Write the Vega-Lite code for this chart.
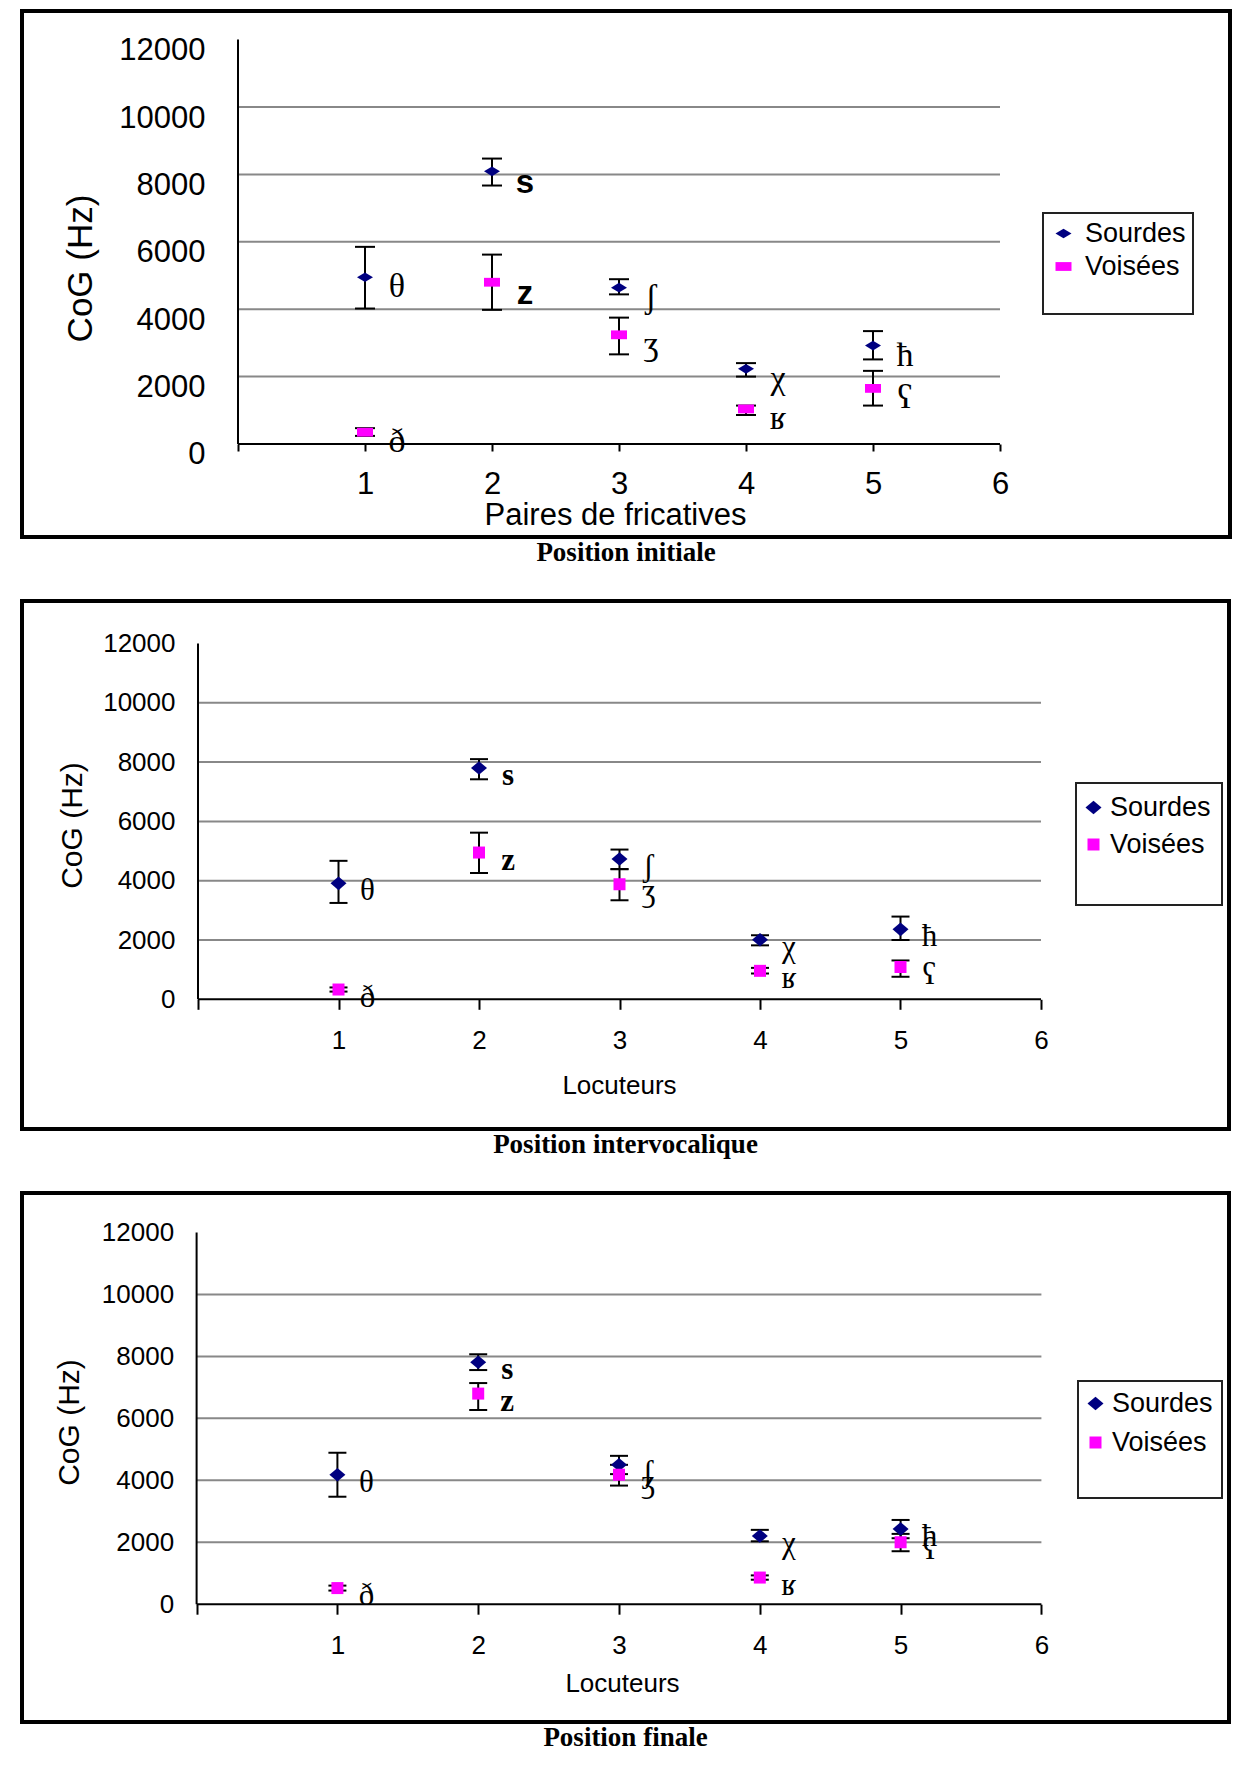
{
  "$schema": "https://vega.github.io/schema/vega-lite/v6.json",
  "background": "white",
  "padding": {"left": 20, "top": 9, "right": 0, "bottom": 0},
  "spacing": 31,
  "resolve": {"scale": {"color": "independent", "shape": "independent"}, "legend": {"color": "independent", "shape": "independent"}},
  "config": {
    "font": "Liberation Sans",
    "legend": {"strokeWidth": 2},
    "axis": {"labelColor": "black", "titleColor": "black", "titleFontWeight": "normal"}
  },
  "datasets": {
    "grid": [{"v": 2000}, {"v": 4000}, {"v": 6000}, {"v": 8000}, {"v": 10000}],
    "p1": [
      {"pair": 1, "type": "Sourdes", "cog": 4950, "lo": 4020, "hi": 5850, "ipa": "θ"},
      {"pair": 1, "type": "Voisées", "cog": 350, "lo": 240, "hi": 470, "ipa": "ð"},
      {"pair": 2, "type": "Sourdes", "cog": 8090, "lo": 7670, "hi": 8470, "ipa": "s"},
      {"pair": 2, "type": "Voisées", "cog": 4800, "lo": 3980, "hi": 5620, "ipa": "z"},
      {"pair": 3, "type": "Sourdes", "cog": 4640, "lo": 4440, "hi": 4890, "ipa": "ʃ"},
      {"pair": 3, "type": "Voisées", "cog": 3240, "lo": 2660, "hi": 3750, "ipa": "ʒ"},
      {"pair": 4, "type": "Sourdes", "cog": 2230, "lo": 2000, "hi": 2400, "ipa": "χ"},
      {"pair": 4, "type": "Voisées", "cog": 1040, "lo": 860, "hi": 1140, "ipa": "ʁ"},
      {"pair": 5, "type": "Sourdes", "cog": 2920, "lo": 2510, "hi": 3350, "ipa": "ħ"},
      {"pair": 5, "type": "Voisées", "cog": 1650, "lo": 1140, "hi": 2170, "ipa": "ʕ"}
    ],
    "p2": [
      {"pair": 1, "type": "Sourdes", "cog": 3910, "lo": 3250, "hi": 4670, "ipa": "θ"},
      {"pair": 1, "type": "Voisées", "cog": 330, "lo": 260, "hi": 400, "ipa": "ð"},
      {"pair": 2, "type": "Sourdes", "cog": 7800, "lo": 7420, "hi": 8100, "ipa": "s"},
      {"pair": 2, "type": "Voisées", "cog": 4950, "lo": 4260, "hi": 5620, "ipa": "z"},
      {"pair": 3, "type": "Sourdes", "cog": 4730, "lo": 4390, "hi": 5050, "ipa": "ʃ"},
      {"pair": 3, "type": "Voisées", "cog": 3880, "lo": 3340, "hi": 4390, "ipa": "ʒ"},
      {"pair": 4, "type": "Sourdes", "cog": 2010, "lo": 1820, "hi": 2160, "ipa": "χ"},
      {"pair": 4, "type": "Voisées", "cog": 960, "lo": 870, "hi": 1060, "ipa": "ʁ"},
      {"pair": 5, "type": "Sourdes", "cog": 2360, "lo": 2000, "hi": 2790, "ipa": "ħ"},
      {"pair": 5, "type": "Voisées", "cog": 1090, "lo": 760, "hi": 1310, "ipa": "ʕ"}
    ],
    "p3": [
      {"pair": 1, "type": "Sourdes", "cog": 4180, "lo": 3470, "hi": 4890, "ipa": "θ"},
      {"pair": 1, "type": "Voisées", "cog": 520, "lo": 440, "hi": 600, "ipa": "ð"},
      {"pair": 2, "type": "Sourdes", "cog": 7810, "lo": 7560, "hi": 8070, "ipa": "s"},
      {"pair": 2, "type": "Voisées", "cog": 6800, "lo": 6270, "hi": 7140, "ipa": "z"},
      {"pair": 3, "type": "Sourdes", "cog": 4500, "lo": 4200, "hi": 4790, "ipa": "ʃ"},
      {"pair": 3, "type": "Voisées", "cog": 4180, "lo": 3830, "hi": 4500, "ipa": "ʒ"},
      {"pair": 4, "type": "Sourdes", "cog": 2200, "lo": 2030, "hi": 2400, "ipa": "χ"},
      {"pair": 4, "type": "Voisées", "cog": 860, "lo": 790, "hi": 930, "ipa": "ʁ"},
      {"pair": 5, "type": "Sourdes", "cog": 2430, "lo": 2130, "hi": 2720, "ipa": "ħ"},
      {"pair": 5, "type": "Voisées", "cog": 2000, "lo": 1710, "hi": 2270, "ipa": "ʕ"}
    ]
  },
  "vconcat": [
    {
      "width": 1208, "height": 526,
      "view": {"stroke": "black", "strokeWidth": 4},
      "title": {"text": "Position initiale", "orient": "bottom", "anchor": "middle", "font": "Liberation Serif", "fontSize": 27, "fontWeight": "bold", "color": "black", "offset": 3},
      "layer": [
        {
          "data": {"name": "grid"},
          "mark": {"type": "rule", "color": "#888888", "strokeWidth": 2},
          "encoding": {
            "x": {"datum": 0, "type": "quantitative", "scale": {"domain": [-1.7008, 7.811], "nice": false, "zero": false},
              "axis": {"orient": "bottom", "offset": -93, "values": [0, 1, 2, 3, 4, 5, 6], "format": "d", "labelExpr": "datum.value == 0 ? '' : datum.label", "domain": false, "grid": false, "ticks": true, "tickColor": "black", "tickSize": 7, "tickWidth": 2, "labelFont": "Liberation Sans", "labelFontSize": 31, "labelPadding": 18, "labelFlush": false, "labelOverlap": false, "title": "Paires de fricatives", "titleFont": "Liberation Sans", "titleFontSize": 31, "titleX": 593, "titleY": 71, "titleBaseline": "middle"}},
            "x2": {"datum": 6},
            "y": {"field": "v", "type": "quantitative", "scale": {"domain": [-2760, 12849], "nice": false, "zero": false},
              "axis": {"orient": "left", "offset": -216, "values": [0, 2000, 4000, 6000, 8000, 10000, 12000], "format": "d", "domain": false, "grid": false, "ticks": false, "labelFont": "Liberation Sans", "labelFontSize": 31, "labelPadding": 33, "labelOffset": 11, "labelFlush": false, "labelOverlap": false, "title": "CoG (Hz)", "titleFont": "Liberation Sans", "titleFontSize": 35, "titleX": -158, "titleY": 257, "titleBaseline": "middle"}}
          }
        },
        {
          "data": {"values": [{}]},
          "mark": {"type": "rule", "color": "black", "strokeWidth": 2},
          "encoding": {
            "x": {"datum": 0, "type": "quantitative", "scale": {"domain": [-1.7008, 7.811], "nice": false, "zero": false}},
            "x2": {"datum": 6},
            "y": {"datum": 0, "type": "quantitative", "scale": {"domain": [-2760, 12849], "nice": false, "zero": false}}
          }
        },
        {
          "data": {"values": [{}]},
          "mark": {"type": "rule", "color": "black", "strokeWidth": 2},
          "encoding": {
            "x": {"datum": 0, "type": "quantitative", "scale": {"domain": [-1.7008, 7.811], "nice": false, "zero": false}},
            "y": {"datum": 0, "type": "quantitative", "scale": {"domain": [-2760, 12849], "nice": false, "zero": false}},
            "y2": {"datum": 12000}
          }
        },
        {
          "data": {"name": "p1"},
          "mark": {"type": "rule", "color": "black", "strokeWidth": 2},
          "encoding": {
            "x": {"field": "pair", "type": "quantitative", "scale": {"domain": [-1.7008, 7.811], "nice": false, "zero": false}},
            "y": {"field": "lo", "type": "quantitative", "scale": {"domain": [-2760, 12849], "nice": false, "zero": false}},
            "y2": {"field": "hi"}
          }
        },
        {
          "data": {"name": "p1"},
          "mark": {"type": "tick", "orient": "horizontal", "size": 20, "thickness": 2, "color": "black", "opacity": 1},
          "encoding": {
            "x": {"field": "pair", "type": "quantitative", "scale": {"domain": [-1.7008, 7.811], "nice": false, "zero": false}},
            "y": {"field": "lo", "type": "quantitative", "scale": {"domain": [-2760, 12849], "nice": false, "zero": false}}
          }
        },
        {
          "data": {"name": "p1"},
          "mark": {"type": "tick", "orient": "horizontal", "size": 20, "thickness": 2, "color": "black", "opacity": 1},
          "encoding": {
            "x": {"field": "pair", "type": "quantitative", "scale": {"domain": [-1.7008, 7.811], "nice": false, "zero": false}},
            "y": {"field": "hi", "type": "quantitative", "scale": {"domain": [-2760, 12849], "nice": false, "zero": false}}
          }
        },
        {
          "data": {"name": "p1"},
          "mark": {"type": "point", "filled": true, "size": 256, "opacity": 1, "strokeWidth": 0},
          "encoding": {
            "x": {"field": "pair", "type": "quantitative", "scale": {"domain": [-1.7008, 7.811], "nice": false, "zero": false}},
            "y": {"field": "cog", "type": "quantitative", "scale": {"domain": [-2760, 12849], "nice": false, "zero": false}},
            "color": {"field": "type", "type": "nominal", "scale": {"domain": ["Sourdes", "Voisées"], "range": ["#000080", "#ff00ff"]},
              "legend": {"title": "\u00a0", "titleOrient": "bottom", "titleFontSize": 23, "titlePadding": 4, "orient": "none", "legendX": 1021, "legendY": 202, "padding": 7, "strokeColor": "#222222", "fillColor": "white", "labelFont": "Liberation Sans", "labelFontSize": 27, "labelColor": "black", "labelOffset": 8, "symbolOffset": 0, "symbolSize": 256, "rowPadding": 5, "symbolStrokeWidth": 0}},
            "shape": {"field": "type", "type": "nominal", "scale": {"domain": ["Sourdes", "Voisées"], "range": ["M-1,0L0,-0.6L1,0L0,0.6Z", "M-1,-0.55H1V0.55H-1Z"]},
              "legend": {"title": "\u00a0", "titleOrient": "bottom", "titleFontSize": 23, "titlePadding": 4, "orient": "none", "legendX": 1021, "legendY": 202, "padding": 7, "strokeColor": "#222222", "fillColor": "white", "labelFont": "Liberation Sans", "labelFontSize": 27, "labelColor": "black", "labelOffset": 8, "symbolOffset": 0, "symbolSize": 256, "rowPadding": 5, "symbolStrokeWidth": 0}}
          }
        },
        {
          "data": {"name": "p1"},
          "transform": [{"filter": "datum.ipa != 's' && datum.ipa != 'z'"}],
          "mark": {"type": "text", "font": "Liberation Serif", "fontSize": 34, "color": "black", "align": "center", "baseline": "middle", "dx": 32, "dy": 10},
          "encoding": {
            "x": {"field": "pair", "type": "quantitative", "scale": {"domain": [-1.7008, 7.811], "nice": false, "zero": false}},
            "y": {"field": "cog", "type": "quantitative", "scale": {"domain": [-2760, 12849], "nice": false, "zero": false}},
            "text": {"field": "ipa"}
          }
        },
        {
          "data": {"name": "p1"},
          "transform": [{"filter": "datum.ipa == 's' || datum.ipa == 'z'"}],
          "mark": {"type": "text", "font": "Liberation Sans", "fontWeight": "bold", "fontSize": 33, "color": "black", "align": "center", "baseline": "middle", "dx": 33, "dy": 12},
          "encoding": {
            "x": {"field": "pair", "type": "quantitative", "scale": {"domain": [-1.7008, 7.811], "nice": false, "zero": false}},
            "y": {"field": "cog", "type": "quantitative", "scale": {"domain": [-2760, 12849], "nice": false, "zero": false}},
            "text": {"field": "ipa"}
          }
        }
      ]
    },
    {
      "width": 1207, "height": 528,
      "view": {"stroke": "black", "strokeWidth": 4},
      "title": {"text": "Position intervocalique", "orient": "bottom", "anchor": "middle", "font": "Liberation Serif", "fontSize": 27, "fontWeight": "bold", "color": "black", "offset": 3},
      "layer": [
        {
          "data": {"name": "grid"},
          "mark": {"type": "rule", "color": "#888888", "strokeWidth": 2},
          "encoding": {
            "x": {"datum": 0, "type": "quantitative", "scale": {"domain": [-1.2527, 7.3381], "nice": false, "zero": false},
              "axis": {"orient": "bottom", "offset": -129.7, "values": [0, 1, 2, 3, 4, 5, 6], "format": "d", "labelExpr": "datum.value == 0 ? '' : datum.label", "domain": false, "grid": false, "ticks": true, "tickColor": "black", "tickSize": 10, "tickWidth": 2, "labelFont": "Liberation Sans", "labelFontSize": 26, "labelPadding": 18, "labelFlush": false, "labelOverlap": false, "title": "Locuteurs", "titleFont": "Liberation Sans", "titleFontSize": 26, "titleX": 597, "titleY": 86, "titleBaseline": "middle"}},
            "x2": {"datum": 6},
            "y": {"field": "v", "type": "quantitative", "scale": {"domain": [-4374, 13433], "nice": false, "zero": false},
              "axis": {"orient": "left", "offset": -176, "values": [0, 2000, 4000, 6000, 8000, 10000, 12000], "format": "d", "domain": false, "grid": false, "ticks": false, "labelFont": "Liberation Sans", "labelFontSize": 26, "labelPadding": 23, "labelFlush": false, "labelOverlap": false, "title": "CoG (Hz)", "titleFont": "Liberation Sans", "titleFontSize": 30, "titleX": -126, "titleY": 224, "titleBaseline": "middle"}}
          }
        },
        {
          "data": {"values": [{}]},
          "mark": {"type": "rule", "color": "black", "strokeWidth": 2},
          "encoding": {
            "x": {"datum": 0, "type": "quantitative", "scale": {"domain": [-1.2527, 7.3381], "nice": false, "zero": false}},
            "x2": {"datum": 6},
            "y": {"datum": 0, "type": "quantitative", "scale": {"domain": [-4374, 13433], "nice": false, "zero": false}}
          }
        },
        {
          "data": {"values": [{}]},
          "mark": {"type": "rule", "color": "black", "strokeWidth": 2},
          "encoding": {
            "x": {"datum": 0, "type": "quantitative", "scale": {"domain": [-1.2527, 7.3381], "nice": false, "zero": false}},
            "y": {"datum": 0, "type": "quantitative", "scale": {"domain": [-4374, 13433], "nice": false, "zero": false}},
            "y2": {"datum": 12000}
          }
        },
        {
          "data": {"name": "p2"},
          "mark": {"type": "rule", "color": "black", "strokeWidth": 2},
          "encoding": {
            "x": {"field": "pair", "type": "quantitative", "scale": {"domain": [-1.2527, 7.3381], "nice": false, "zero": false}},
            "y": {"field": "lo", "type": "quantitative", "scale": {"domain": [-4374, 13433], "nice": false, "zero": false}},
            "y2": {"field": "hi"}
          }
        },
        {
          "data": {"name": "p2"},
          "mark": {"type": "tick", "orient": "horizontal", "size": 18, "thickness": 2, "color": "black", "opacity": 1},
          "encoding": {
            "x": {"field": "pair", "type": "quantitative", "scale": {"domain": [-1.2527, 7.3381], "nice": false, "zero": false}},
            "y": {"field": "lo", "type": "quantitative", "scale": {"domain": [-4374, 13433], "nice": false, "zero": false}}
          }
        },
        {
          "data": {"name": "p2"},
          "mark": {"type": "tick", "orient": "horizontal", "size": 18, "thickness": 2, "color": "black", "opacity": 1},
          "encoding": {
            "x": {"field": "pair", "type": "quantitative", "scale": {"domain": [-1.2527, 7.3381], "nice": false, "zero": false}},
            "y": {"field": "hi", "type": "quantitative", "scale": {"domain": [-4374, 13433], "nice": false, "zero": false}}
          }
        },
        {
          "data": {"name": "p2"},
          "mark": {"type": "point", "filled": true, "size": 256, "opacity": 1, "strokeWidth": 0},
          "encoding": {
            "x": {"field": "pair", "type": "quantitative", "scale": {"domain": [-1.2527, 7.3381], "nice": false, "zero": false}},
            "y": {"field": "cog", "type": "quantitative", "scale": {"domain": [-4374, 13433], "nice": false, "zero": false}},
            "color": {"field": "type", "type": "nominal", "scale": {"domain": ["Sourdes", "Voisées"], "range": ["#000080", "#ff00ff"]},
              "legend": {"title": "\u00a0", "titleOrient": "bottom", "titleFontSize": 28, "titlePadding": 8, "orient": "none", "legendX": 1054, "legendY": 182, "padding": 11, "strokeColor": "#222222", "fillColor": "white", "labelFont": "Liberation Sans", "labelFontSize": 27, "labelColor": "black", "labelOffset": 3, "symbolOffset": -7, "symbolSize": 256, "rowPadding": 9, "symbolStrokeWidth": 0}},
            "shape": {"field": "type", "type": "nominal", "scale": {"domain": ["Sourdes", "Voisées"], "range": ["M-1,0L0,-0.85L1,0L0,0.85Z", "M-0.75,-0.75H0.75V0.75H-0.75Z"]},
              "legend": {"title": "\u00a0", "titleOrient": "bottom", "titleFontSize": 28, "titlePadding": 8, "orient": "none", "legendX": 1054, "legendY": 182, "padding": 11, "strokeColor": "#222222", "fillColor": "white", "labelFont": "Liberation Sans", "labelFontSize": 27, "labelColor": "black", "labelOffset": 3, "symbolOffset": -7, "symbolSize": 256, "rowPadding": 9, "symbolStrokeWidth": 0}}
          }
        },
        {
          "data": {"name": "p2"},
          "transform": [{"filter": "datum.ipa != 's' && datum.ipa != 'z'"}],
          "mark": {"type": "text", "font": "Liberation Serif", "fontSize": 31, "color": "black", "align": "center", "baseline": "middle", "dx": 29, "dy": 8},
          "encoding": {
            "x": {"field": "pair", "type": "quantitative", "scale": {"domain": [-1.2527, 7.3381], "nice": false, "zero": false}},
            "y": {"field": "cog", "type": "quantitative", "scale": {"domain": [-4374, 13433], "nice": false, "zero": false}},
            "text": {"field": "ipa"}
          }
        },
        {
          "data": {"name": "p2"},
          "transform": [{"filter": "datum.ipa == 's' || datum.ipa == 'z'"}],
          "mark": {"type": "text", "font": "Liberation Serif", "fontWeight": "bold", "fontSize": 31, "color": "black", "align": "center", "baseline": "middle", "dx": 29, "dy": 8},
          "encoding": {
            "x": {"field": "pair", "type": "quantitative", "scale": {"domain": [-1.2527, 7.3381], "nice": false, "zero": false}},
            "y": {"field": "cog", "type": "quantitative", "scale": {"domain": [-4374, 13433], "nice": false, "zero": false}},
            "text": {"field": "ipa"}
          }
        }
      ]
    },
    {
      "width": 1207, "height": 529,
      "view": {"stroke": "black", "strokeWidth": 4},
      "title": {"text": "Position finale", "orient": "bottom", "anchor": "middle", "font": "Liberation Serif", "fontSize": 27, "fontWeight": "bold", "color": "black", "offset": 3},
      "layer": [
        {
          "data": {"name": "grid"},
          "mark": {"type": "rule", "color": "#888888", "strokeWidth": 2},
          "encoding": {
            "x": {"datum": 0, "type": "quantitative", "scale": {"domain": [-1.2401, 7.3324], "nice": false, "zero": false},
              "axis": {"orient": "bottom", "offset": -117.8, "values": [0, 1, 2, 3, 4, 5, 6], "format": "d", "labelExpr": "datum.value == 0 ? '' : datum.label", "domain": false, "grid": false, "ticks": true, "tickColor": "black", "tickSize": 10, "tickWidth": 2, "labelFont": "Liberation Sans", "labelFontSize": 26, "labelPadding": 18, "labelFlush": false, "labelOverlap": false, "title": "Locuteurs", "titleFont": "Liberation Sans", "titleFontSize": 26, "titleX": 600, "titleY": 79, "titleBaseline": "middle"}},
            "x2": {"datum": 6},
            "y": {"field": "v", "type": "quantitative", "scale": {"domain": [-3804, 13277], "nice": false, "zero": false},
              "axis": {"orient": "left", "offset": -174.6, "values": [0, 2000, 4000, 6000, 8000, 10000, 12000], "format": "d", "domain": false, "grid": false, "ticks": false, "labelFont": "Liberation Sans", "labelFontSize": 26, "labelPadding": 23, "labelFlush": false, "labelOverlap": false, "title": "CoG (Hz)", "titleFont": "Liberation Sans", "titleFontSize": 30, "titleX": -127, "titleY": 229, "titleBaseline": "middle"}}
          }
        },
        {
          "data": {"values": [{}]},
          "mark": {"type": "rule", "color": "black", "strokeWidth": 2},
          "encoding": {
            "x": {"datum": 0, "type": "quantitative", "scale": {"domain": [-1.2401, 7.3324], "nice": false, "zero": false}},
            "x2": {"datum": 6},
            "y": {"datum": 0, "type": "quantitative", "scale": {"domain": [-3804, 13277], "nice": false, "zero": false}}
          }
        },
        {
          "data": {"values": [{}]},
          "mark": {"type": "rule", "color": "black", "strokeWidth": 2},
          "encoding": {
            "x": {"datum": 0, "type": "quantitative", "scale": {"domain": [-1.2401, 7.3324], "nice": false, "zero": false}},
            "y": {"datum": 0, "type": "quantitative", "scale": {"domain": [-3804, 13277], "nice": false, "zero": false}},
            "y2": {"datum": 12000}
          }
        },
        {
          "data": {"name": "p3"},
          "mark": {"type": "rule", "color": "black", "strokeWidth": 2},
          "encoding": {
            "x": {"field": "pair", "type": "quantitative", "scale": {"domain": [-1.2401, 7.3324], "nice": false, "zero": false}},
            "y": {"field": "lo", "type": "quantitative", "scale": {"domain": [-3804, 13277], "nice": false, "zero": false}},
            "y2": {"field": "hi"}
          }
        },
        {
          "data": {"name": "p3"},
          "mark": {"type": "tick", "orient": "horizontal", "size": 18, "thickness": 2, "color": "black", "opacity": 1},
          "encoding": {
            "x": {"field": "pair", "type": "quantitative", "scale": {"domain": [-1.2401, 7.3324], "nice": false, "zero": false}},
            "y": {"field": "lo", "type": "quantitative", "scale": {"domain": [-3804, 13277], "nice": false, "zero": false}}
          }
        },
        {
          "data": {"name": "p3"},
          "mark": {"type": "tick", "orient": "horizontal", "size": 18, "thickness": 2, "color": "black", "opacity": 1},
          "encoding": {
            "x": {"field": "pair", "type": "quantitative", "scale": {"domain": [-1.2401, 7.3324], "nice": false, "zero": false}},
            "y": {"field": "hi", "type": "quantitative", "scale": {"domain": [-3804, 13277], "nice": false, "zero": false}}
          }
        },
        {
          "data": {"name": "p3"},
          "mark": {"type": "point", "filled": true, "size": 256, "opacity": 1, "strokeWidth": 0},
          "encoding": {
            "x": {"field": "pair", "type": "quantitative", "scale": {"domain": [-1.2401, 7.3324], "nice": false, "zero": false}},
            "y": {"field": "cog", "type": "quantitative", "scale": {"domain": [-3804, 13277], "nice": false, "zero": false}},
            "color": {"field": "type", "type": "nominal", "scale": {"domain": ["Sourdes", "Voisées"], "range": ["#000080", "#ff00ff"]},
              "legend": {"title": "\u00a0", "titleOrient": "bottom", "titleFontSize": 26, "titlePadding": 7, "orient": "none", "legendX": 1056, "legendY": 188, "padding": 9, "strokeColor": "#222222", "fillColor": "white", "labelFont": "Liberation Sans", "labelFontSize": 27, "labelColor": "black", "labelOffset": 3, "symbolOffset": -5, "symbolSize": 256, "rowPadding": 11, "symbolStrokeWidth": 0}},
            "shape": {"field": "type", "type": "nominal", "scale": {"domain": ["Sourdes", "Voisées"], "range": ["M-1,0L0,-0.85L1,0L0,0.85Z", "M-0.75,-0.75H0.75V0.75H-0.75Z"]},
              "legend": {"title": "\u00a0", "titleOrient": "bottom", "titleFontSize": 26, "titlePadding": 7, "orient": "none", "legendX": 1056, "legendY": 188, "padding": 9, "strokeColor": "#222222", "fillColor": "white", "labelFont": "Liberation Sans", "labelFontSize": 27, "labelColor": "black", "labelOffset": 3, "symbolOffset": -5, "symbolSize": 256, "rowPadding": 11, "symbolStrokeWidth": 0}}
          }
        },
        {
          "data": {"name": "p3"},
          "transform": [{"filter": "datum.ipa != 's' && datum.ipa != 'z'"}],
          "mark": {"type": "text", "font": "Liberation Serif", "fontSize": 31, "color": "black", "align": "center", "baseline": "middle", "dx": 29, "dy": 8},
          "encoding": {
            "x": {"field": "pair", "type": "quantitative", "scale": {"domain": [-1.2401, 7.3324], "nice": false, "zero": false}},
            "y": {"field": "cog", "type": "quantitative", "scale": {"domain": [-3804, 13277], "nice": false, "zero": false}},
            "text": {"field": "ipa"}
          }
        },
        {
          "data": {"name": "p3"},
          "transform": [{"filter": "datum.ipa == 's' || datum.ipa == 'z'"}],
          "mark": {"type": "text", "font": "Liberation Serif", "fontWeight": "bold", "fontSize": 31, "color": "black", "align": "center", "baseline": "middle", "dx": 29, "dy": 8},
          "encoding": {
            "x": {"field": "pair", "type": "quantitative", "scale": {"domain": [-1.2401, 7.3324], "nice": false, "zero": false}},
            "y": {"field": "cog", "type": "quantitative", "scale": {"domain": [-3804, 13277], "nice": false, "zero": false}},
            "text": {"field": "ipa"}
          }
        }
      ]
    }
  ]
}
